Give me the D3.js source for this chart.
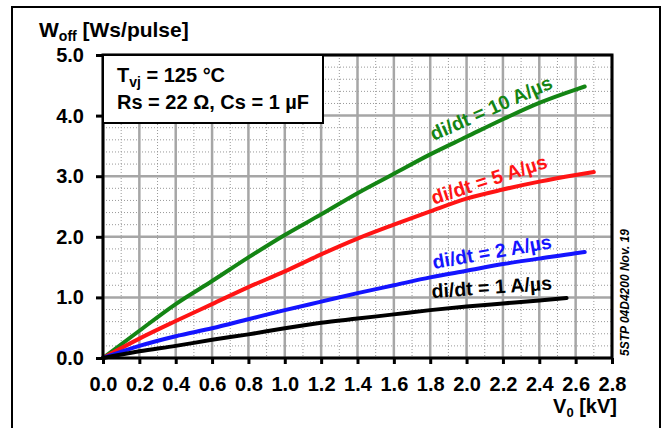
<!DOCTYPE html>
<html>
<head>
<meta charset="utf-8">
<script src="https://cdn.jsdelivr.net/npm/d3@7"></script>
<style>
  body { margin: 0; background: #fff; }
  svg text { font-family: "Liberation Sans", Arial, sans-serif; font-weight: bold; }
</style>
</head>
<body>
<div id="chart"></div>
<script>
// W_off vs V0 for several di/dt values
var v10 = [0, 0.2, 0.4, 0.6, 0.8, 1.0, 1.2, 1.4, 1.6, 1.8, 2.0, 2.2, 2.4, 2.6, 2.65];
var w10 = [0, 0.45, 0.89, 1.27, 1.66, 2.03, 2.37, 2.72, 3.04, 3.36, 3.65, 3.94, 4.21, 4.43, 4.48];

var v5 = [0, 0.2, 0.4, 0.6, 0.8, 1.0, 1.2, 1.4, 1.6, 1.8, 2.0, 2.2, 2.4, 2.6, 2.7];
var w5 = [0, 0.32, 0.61, 0.89, 1.17, 1.43, 1.71, 1.97, 2.20, 2.42, 2.63, 2.78, 2.91, 3.02, 3.07];

var v2 = [0, 0.2, 0.4, 0.6, 0.8, 1.0, 1.2, 1.4, 1.6, 1.8, 2.0, 2.2, 2.4, 2.6, 2.65];
var w2 = [0, 0.20, 0.36, 0.49, 0.64, 0.79, 0.93, 1.07, 1.20, 1.33, 1.44, 1.55, 1.64, 1.73, 1.75];

var v1 = [0, 0.2, 0.4, 0.6, 0.8, 1.0, 1.2, 1.4, 1.6, 1.8, 2.0, 2.2, 2.4, 2.55];
var w1 = [0, 0.11, 0.20, 0.30, 0.39, 0.49, 0.58, 0.65, 0.72, 0.79, 0.85, 0.90, 0.95, 0.99];

var seriesNames = ["di/dt = 10 A/µs", "di/dt = 5 A/µs", "di/dt = 2 A/µs", "di/dt = 1 A/µs"];
var seriesColors = ["#148514", "#ff1414", "#1414ff", "#000000"];

var xTicks = [0, 0.2, 0.4, 0.6, 0.8, 1.0, 1.2, 1.4, 1.6, 1.8, 2.0, 2.2, 2.4, 2.6, 2.8];
var yTicks = [0, 1, 2, 3, 4, 5];

var W = 667, H = 428;
var pLeft = 103, pRight = 612, pTop = 55, pBottom = 358;

var svg = d3.select("#chart").append("svg")
    .attr("width", W)
    .attr("height", H);

// outer frame
svg.append("rect")
    .attr("x", 12).attr("y", 7)
    .attr("width", 648).attr("height", 440)
    .attr("fill", "none")
    .attr("stroke", "#000")
    .attr("stroke-width", 2);

var x = d3.scaleLinear().domain([0, 2.8]).range([pLeft, pRight]);
var y = d3.scaleLinear().domain([0, 5]).range([pBottom, pTop]);

// minor grid (dotted)
var xMinor = d3.range(0.1, 2.8, 0.2);
var yMinor = d3.range(0, 5.01, 0.2).filter(function(d) { return Math.abs(d - Math.round(d)) > 0.01; });

svg.append("g").selectAll("line")
    .data(xMinor)
    .enter().append("line")
    .attr("x1", function(d) { return x(d); })
    .attr("x2", function(d) { return x(d); })
    .attr("y1", pTop).attr("y2", pBottom)
    .attr("stroke", "#999")
    .attr("stroke-width", 1)
    .attr("stroke-dasharray", "1,2");

svg.append("g").selectAll("line")
    .data(yMinor)
    .enter().append("line")
    .attr("x1", pLeft).attr("x2", pRight)
    .attr("y1", function(d) { return y(d); })
    .attr("y2", function(d) { return y(d); })
    .attr("stroke", "#999")
    .attr("stroke-width", 1)
    .attr("stroke-dasharray", "1,2");

// major grid
svg.append("g").selectAll("line")
    .data(xTicks)
    .enter().append("line")
    .attr("x1", function(d) { return x(d); })
    .attr("x2", function(d) { return x(d); })
    .attr("y1", pTop).attr("y2", pBottom)
    .attr("stroke", "#a6a6a6")
    .attr("stroke-width", 2.5);

svg.append("g").selectAll("line")
    .data(yTicks)
    .enter().append("line")
    .attr("x1", pLeft).attr("x2", pRight)
    .attr("y1", function(d) { return y(d); })
    .attr("y2", function(d) { return y(d); })
    .attr("stroke", "#a6a6a6")
    .attr("stroke-width", 2.5);

// curves
var line = d3.line()
    .x(function(d) { return x(d[0]); })
    .y(function(d) { return y(d[1]); })
    .curve(d3.curveMonotoneX);

var curves = [d3.zip(v10, w10), d3.zip(v5, w5), d3.zip(v2, w2), d3.zip(v1, w1)];

svg.append("g").selectAll("path")
    .data(curves)
    .enter().append("path")
    .attr("d", line)
    .attr("fill", "none")
    .attr("stroke", function(d, i) { return seriesColors[i]; })
    .attr("stroke-width", 4)
    .attr("stroke-linecap", "round");

// plot border
svg.append("rect")
    .attr("x", pLeft).attr("y", pTop)
    .attr("width", pRight - pLeft).attr("height", pBottom - pTop)
    .attr("fill", "none")
    .attr("stroke", "#000")
    .attr("stroke-width", 3);

// axes
var xAxis = svg.append("g")
    .attr("transform", "translate(0," + pBottom + ")")
    .call(d3.axisBottom(x).tickValues(xTicks).tickSize(6).tickFormat(d3.format(".1f")));
xAxis.select(".domain").remove();
xAxis.selectAll(".tick line").attr("stroke", "#000").attr("stroke-width", 3);
xAxis.selectAll(".tick text")
    .attr("y", 19)
    .attr("fill", "#000")
    .style("font-size", "20px");

var yAxis = svg.append("g")
    .attr("transform", "translate(" + pLeft + ",0)")
    .call(d3.axisLeft(y).tickValues(yTicks).tickSize(7).tickFormat(d3.format(".1f")));
yAxis.select(".domain").remove();
yAxis.selectAll(".tick line").attr("stroke", "#000").attr("stroke-width", 3);
yAxis.selectAll(".tick text")
    .attr("x", -19)
    .attr("fill", "#000")
    .style("font-size", "20px");

// axis titles
var yt = svg.append("text")
    .attr("x", 39).attr("y", 37)
    .style("font-size", "21px");
yt.append("tspan").text("W");
yt.append("tspan").attr("dy", 4).style("font-size", "14px").text("off");
yt.append("tspan").attr("dy", -4).text(" [Ws/pulse]");

var xt = svg.append("text")
    .attr("x", 617).attr("y", 413)
    .attr("text-anchor", "end")
    .style("font-size", "20px");
xt.append("tspan").text("V");
xt.append("tspan").attr("dy", 4).style("font-size", "13px").text("0");
xt.append("tspan").attr("dy", -4).text(" [kV]");

// condition box
svg.append("rect")
    .attr("x", pLeft).attr("y", pTop)
    .attr("width", 220).attr("height", 68)
    .attr("fill", "#fff")
    .attr("stroke", "#000")
    .attr("stroke-width", 2);

var t1 = svg.append("text")
    .attr("x", 117).attr("y", 82)
    .style("font-size", "20px");
t1.append("tspan").text("T");
t1.append("tspan").attr("dy", 5).style("font-size", "14px").text("vj");
t1.append("tspan").attr("dy", -5).text(" = 125 °C");

svg.append("text")
    .attr("x", 117).attr("y", 109)
    .style("font-size", "20px")
    .text("Rs = 22 Ω, Cs = 1 µF");

// curve labels
var labelPos = [[1.82, 3.58, -24], [1.82, 2.53, -18], [1.82, 1.47, -10], [1.81, 0.99, -4]];

svg.append("g").selectAll("text")
    .data(seriesNames)
    .enter().append("text")
    .attr("transform", function(d, i) {
        var p = labelPos[i];
        return "translate(" + x(p[0]) + "," + y(p[1]) + ") rotate(" + p[2] + ")";
    })
    .attr("fill", function(d, i) { return seriesColors[i]; })
    .style("font-size", "19.5px")
    .text(function(d) { return d; });

// document reference
svg.append("text")
    .attr("transform", "translate(629,356) rotate(-90)")
    .style("font-size", "12px")
    .style("font-style", "italic")
    .text("5STP 04D4200 Nov. 19");
</script>
</body>
</html>
